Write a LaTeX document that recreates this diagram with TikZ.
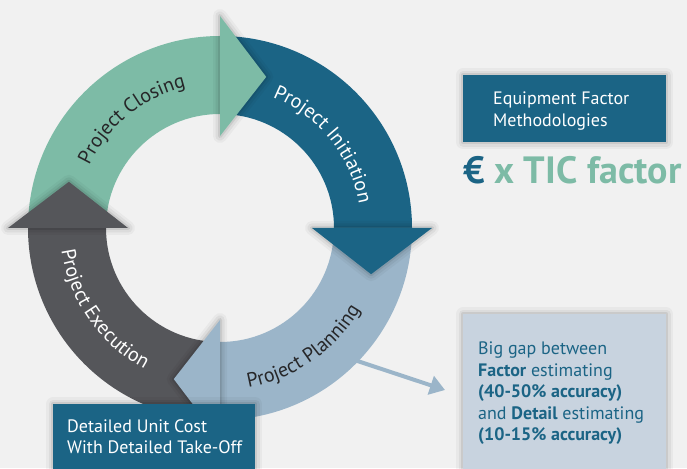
\documentclass[tikz,border=0pt]{standalone}
\usepackage{fontspec}
\setmainfont{PT Sans}
\usetikzlibrary{arrows.meta,positioning,decorations.text}
\definecolor{bg}{RGB}{241,241,241}
\definecolor{closegreen}{RGB}{125,187,166}
\definecolor{initblue}{RGB}{27,100,133}
\definecolor{planblue}{RGB}{155,181,201}
\definecolor{execgray}{RGB}{85,86,90}
\definecolor{gapfill}{RGB}{200,211,223}
\definecolor{ringdark}{RGB}{38,38,40}
\tikzset{
  % soft halo: a few wide, faint strokes under the fill
  shd/.style     ={preaction={draw=black,line width=14pt,opacity=.035,line join=round},
                   preaction={draw=black,line width=9pt,opacity=.05,line join=round},
                   preaction={draw=black,line width=4pt,opacity=.08,line join=round}},
  boxdark/.style ={fill=initblue,shd,inner sep=0pt,anchor=north west},
  boxlight/.style={fill=gapfill,shd,inner sep=0pt,anchor=north west},
  boxtext/.style ={font=\fontsize{18}{21.5}\selectfont,align=left,inner sep=0pt},
  lbl/.style     ={decorate,decoration={text along path,text align=center,text={#1}}},
  ar/.style      ={line width=4pt,draw=planblue,-{Triangle[length=15pt,width=19pt]}},
}
\newcommand{\ringfont}{\fontsize{20}{20}\selectfont}

\begin{document}
\begin{tikzpicture}[x=1pt,y=1pt]
\useasboundingbox (0,0) rectangle (687,468);
\fill[bg] (0,0) rectangle (687,468);
\coordinate (C) at (220,240);

% ---- connector to the gap box ----------------------------------------
\coordinate (planout) at ([shift={(-45:185)}]C);
\coordinate (gaptip) at (445,78);
\draw[ar] (planout) -- (gaptip);

% ---- ring bodies (quarter sectors) ------------------------------------
\fill[closegreen] ([shift={(180:114)}]C) arc[start angle=180,end angle=90,radius=114pt]
  -- ([shift={(90:192)}]C) arc[start angle=90,end angle=180,radius=192pt] -- cycle;
\fill[initblue] ([shift={(90:114)}]C) arc[start angle=90,end angle=0,radius=114pt]
  -- ([shift={(0:192)}]C) arc[start angle=0,end angle=90,radius=192pt] -- cycle;
\fill[planblue] ([shift={(0:114)}]C) arc[start angle=0,end angle=-90,radius=114pt]
  -- ([shift={(-90:192)}]C) arc[start angle=-90,end angle=0,radius=192pt] -- cycle;
\fill[execgray] ([shift={(-90:114)}]C) arc[start angle=-90,end angle=-180,radius=114pt]
  -- ([shift={(-180:192)}]C) arc[start angle=-180,end angle=-90,radius=192pt] -- cycle;

% ---- arrow heads -------------------------------------------------------
\fill[initblue,shd] ([shift={(0:92)}]C) -- ([shift={(-17:158)}]C) -- ([shift={(0:212)}]C) -- cycle;
\fill[planblue,shd] ([shift={(-90:92)}]C) -- ([shift={(-107:158)}]C) -- ([shift={(-90:212)}]C) -- cycle;
\fill[execgray,shd] ([shift={(180:92)}]C) -- ([shift={(163:158)}]C) -- ([shift={(180:212)}]C) -- cycle;
\fill[closegreen,shd] ([shift={(90:92)}]C) -- ([shift={(73:158)}]C) -- ([shift={(90:212)}]C) -- cycle;

% ---- ring labels -------------------------------------------------------
\path[lbl={|\ringfont\color{ringdark}|Project Closing}]
  ([shift={(169:145)}]C) arc[start angle=169,end angle=89,radius=145pt];
\path[lbl={|\ringfont\color{white}|Project Initiation}]
  ([shift={(79:141)}]C) arc[start angle=79,end angle=-1,radius=141pt];
\path[lbl={|\ringfont\color{ringdark}|Project Planning}]
  ([shift={(-95:162)}]C) arc[start angle=-95,end angle=-15,radius=162pt];
\path[lbl={|\ringfont\color{white}|Project Execution}]
  ([shift={(-185:160)}]C) arc[start angle=-185,end angle=-105,radius=160pt];

% ---- boxes -------------------------------------------------------------
\node[boxdark,minimum width=203pt,minimum height=67pt] (equip) at (463,393) {};
\node[boxtext,text=white,below right=17pt and 30pt of equip.north west] (equiptxt)
  {Equipment Factor\\Methodologies};
\node[anchor=base west,inner sep=0pt,font=\fontsize{38}{38}\selectfont\bfseries] (tic) at (463,284)
  {\textcolor{initblue}{€} \textcolor{closegreen}{x TIC factor}};

\node[boxlight,minimum width=203pt,minimum height=170pt] (gap) at (463,154) {};
\node[boxtext,text=initblue,below right=28pt and 15pt of gap.north west] (gaptxt)
  {Big gap between\\\textbf{Factor} estimating\\\textbf{(40-50\% accuracy)}\\
   and \textbf{Detail} estimating\\\textbf{(10-15\% accuracy)}};

\node[boxdark,minimum width=202pt,minimum height=80pt] (detail) at (53,64) {};
\node[boxtext,text=white,below right=15pt and 14pt of detail.north west] (detailtxt)
  {Detailed Unit Cost\\With Detailed Take-Off};
\end{tikzpicture}
\end{document}
